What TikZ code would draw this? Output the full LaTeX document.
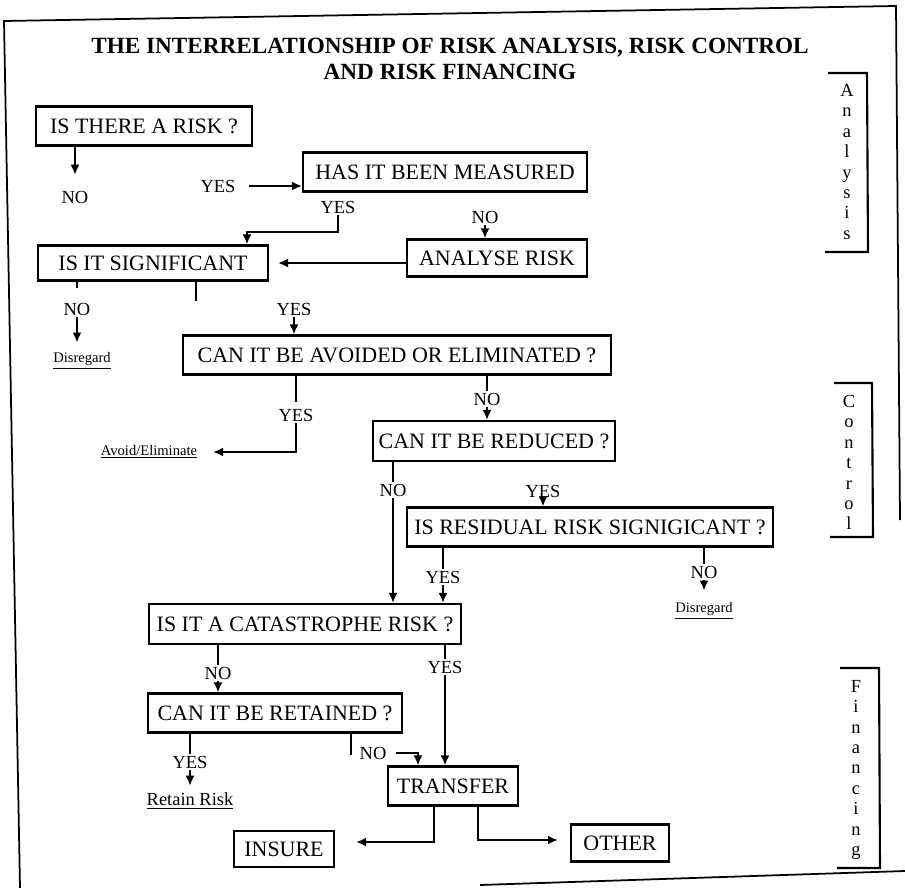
\documentclass[tikz,border=0pt]{standalone}
\usepackage{fontspec}
\setmainfont{Liberation Serif}
\usetikzlibrary{arrows.meta}

\tikzset{
  qbox/.style={draw, line width=1.3pt, font=\fontsize{12.5}{15}\selectfont, inner sep=2pt, minimum height=0.78cm},
  lbl/.style={font=\fontsize{10.5}{12}\selectfont, inner sep=1pt},
  endtxt/.style={font=\fontsize{8.3}{10}\selectfont, inner sep=1pt},
  sidelbl/.style={font=\fontsize{10.5}{11.6}\selectfont, align=center, inner sep=0pt, anchor=north},
  headline/.style={font=\bfseries\fontsize{13.2}{15}\selectfont, inner sep=0pt, anchor=base},
  arr/.style={-{Latex[length=2mm,width=1.8mm]}, line width=1pt},
  link/.style={line width=0.6pt},
  sidebar/.style={line width=1.2pt},
  outline/.style={line width=1pt}
}

\begin{document}
\begin{tikzpicture}[x=0.02cm, y=-0.02cm]
	\useasboundingbox (0,0) rectangle (905,888);

	% scanned page frame
	\draw[outline] (900,520) -- (896,6) -- (4,21) -- (20,888);
	\draw[outline] (480,885) -- (905,871);

	% title
	\node[headline] (title1) at (450,54) {THE INTERRELATIONSHIP OF RISK ANALYSIS, RISK CONTROL};
	\node[headline] (title2) at (450,80) {AND RISK FINANCING};

	% question boxes
	\node[qbox, minimum width=4.32cm] (risk) at (144,126) {IS THERE A RISK ?};
	\node[qbox, minimum width=5.68cm] (measured) at (445,172) {HAS IT BEEN MEASURED};
	\node[qbox, minimum width=3.6cm, minimum height=0.74cm] (analyse) at (497,258) {ANALYSE RISK};
	\node[qbox, minimum width=4.6cm, minimum height=0.7cm] (signif) at (153,263) {IS IT SIGNIFICANT};
	\node[qbox, minimum width=8.56cm] (avoid) at (397,355) {CAN IT BE AVOIDED OR ELIMINATED ?};
	\node[qbox, minimum width=4.84cm, minimum height=0.8cm] (reduced) at (494,441) {CAN IT BE REDUCED ?};
	\node[qbox, minimum width=7.32cm] (residual) at (590,527) {IS RESIDUAL RISK SIGNIGICANT ?};
	\node[qbox, minimum width=6.24cm, minimum height=0.8cm] (catas) at (305,624) {IS IT A CATASTROPHE RISK ?};
	\node[qbox, minimum width=5.08cm] (retain) at (275,713) {CAN IT BE RETAINED ?};
	\node[qbox, minimum width=2.6cm] (transfer) at (453,786) {TRANSFER};
	\node[qbox, minimum width=2.0cm, minimum height=0.72cm] (insure) at (284,849) {INSURE};
	\node[qbox, minimum width=1.96cm, minimum height=0.74cm] (other) at (620,843) {OTHER};

	% answers
	\node[lbl] (no1) at (75,197) {NO};
	\node[lbl] (yes1) at (218,186) {YES};
	\node[lbl] (yes2) at (338,207) {YES};
	\node[lbl] (no2) at (485,217) {NO};
	\node[lbl] (no3) at (77,309) {NO};
	\node[lbl] (yes3) at (294,309) {YES};
	\node[lbl] (yes4) at (296,415) {YES};
	\node[lbl] (no4) at (487,399) {NO};
	\node[lbl] (no5) at (393,490) {NO};
	\node[lbl] (yes5) at (543,491) {YES};
	\node[lbl] (yes6) at (443,577) {YES};
	\node[lbl] (no6) at (704,572) {NO};
	\node[lbl] (no7) at (218,673) {NO};
	\node[lbl] (yes7) at (445,667) {YES};
	\node[lbl] (yes8) at (190,762) {YES};
	\node[lbl] (no8) at (373,753) {NO};

	% outcomes
	\node[endtxt] (disreg1) at (82,361) {\underline{Disregard}};
	\node[endtxt] (avoidtxt) at (149,452) {\underline{Avoid/Eliminate}};
	\node[endtxt] (disreg2) at (704,611) {\underline{Disregard}};
	\node[lbl] (retaintxt) at (190,801) {\underline{Retain Risk}};

	% side brackets
	\draw[sidebar] (828,73) -- (867,73) -- (868,252) -- (825,252);
	\node[sidelbl] (analysis) at (847,84) {A\\n\\a\\l\\y\\s\\i\\s};
	\draw[sidebar] (834,383) -- (872,383) -- (873,537) -- (830,537);
	\node[sidelbl] (control) at (849,395) {C\\o\\n\\t\\r\\o\\l};
	\draw[sidebar] (840,668) -- (879,668) -- (880,868) -- (837,868);
	\node[sidelbl] (financing) at (856,680) {F\\i\\n\\a\\n\\c\\i\\n\\g};

	% analysis part
	\draw[arr, shorten >=0.28cm] (risk.south -| no1) -- (no1.north);
	\draw[arr, shorten <=0.22cm] (yes1.east) -- (yes1.east -| measured.west);
	\coordinate (bendA) at (247,232);
	\draw[arr] (yes2.south) |- (bendA) -- (bendA |- signif.north);
	\draw[arr] (no2.south) -- (no2.south |- analyse.north);
	\draw[arr, shorten >=0.18cm] (analyse.west |- signif) -- (signif.east);

	% control part
	\draw[link, shorten >=0.26cm] (signif.south -| no3) -- (no3.north);
	\draw[arr, shorten >=0.16cm] (no3.south) -- (no3.south |- disreg1.north);
	\coordinate (stub1) at (196,301);
	\draw[link] (signif.south -| stub1) -- (stub1);
	\draw[arr] (yes3.south) -- (yes3.south |- avoid.north);
	\draw[link, shorten >=0.1cm] (avoid.south -| yes4) -- (yes4.north);
	\draw[arr, shorten >=0.28cm] (yes4.south) |- (avoidtxt.east);
	\draw[link] (avoid.south -| no4) -- (no4.north);
	\draw[arr] (no4.south) -- (no4.south |- reduced.north);
	\draw[link] (reduced.south -| no5) -- (no5.north);
	\draw[arr] (no5.south) -- (no5.south |- catas.north);
	\draw[arr] (yes5.south) -- (yes5.south |- residual.north);
	\draw[link] (residual.south -| yes6) -- (yes6.north);
	\draw[arr] (yes6.south) -- (yes6.south |- catas.north);
	\draw[link] (residual.south -| no6) -- (no6.north);
	\draw[arr, shorten >=0.2cm] (no6.south) -- (disreg2.north);

	% financing part
	\draw[link] (catas.south -| no7) -- (no7.north);
	\draw[arr] (no7.south) -- (no7.south |- retain.north);
	\draw[link] (catas.south -| yes7) -- (yes7.north);
	\draw[arr] (yes7.south) -- (yes7.south |- transfer.north);
	\draw[link] (retain.south -| yes8) -- (yes8.north);
	\draw[arr, shorten >=0.1cm] (yes8.south) -- (retaintxt.north);
	\coordinate (stub2) at (351,755);
	\draw[link] (retain.south -| stub2) -- (stub2);
	\coordinate (nodrop) at (418,753);
	\draw[arr, shorten <=0.16cm] (no8.east) -- (nodrop) -- (nodrop |- transfer.north);
	\coordinate (splitL) at (434,842);
	\draw[arr, shorten >=0.42cm] (transfer.south -| splitL) -- (splitL) -- (splitL -| insure.east);
	\coordinate (splitR) at (478,840);
	\draw[arr, shorten >=0.24cm] (transfer.south -| splitR) -- (splitR) -- (splitR -| other.west);
\end{tikzpicture}
\end{document}
